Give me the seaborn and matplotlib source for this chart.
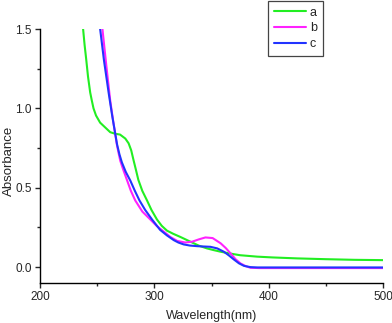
import numpy as np
import pandas as pd
import matplotlib
matplotlib.use("Agg")
import matplotlib.pyplot as plt
import seaborn as sns
from matplotlib.ticker import MultipleLocator

# spectra (wavelength nm, absorbance)
wl_a = [237.7, 239, 240.4, 242, 243.9, 245.3, 246.8, 249, 252.6, 257, 261.4, 265.8, 270,
        274.6, 277.5, 279.8, 281.6, 284, 286, 289.5, 293.6, 297.5, 302.3, 306.5, 311, 316.5,
        322.8, 331.6, 339, 346, 352, 358, 366, 375, 390, 403.5, 425, 450, 475, 500]
abs_a = [1.50, 1.40, 1.31, 1.20, 1.10, 1.05, 1.00, 0.955, 0.91, 0.88, 0.85, 0.84, 0.835,
         0.81, 0.78, 0.735, 0.68, 0.61, 0.55, 0.48, 0.42, 0.36, 0.30, 0.26, 0.23, 0.21,
         0.19, 0.16, 0.135, 0.118, 0.107, 0.097, 0.086, 0.075, 0.066, 0.061, 0.055, 0.05,
         0.046, 0.044]

wl_b = [254.6, 258, 261.4, 264, 265.8, 267, 268.7, 270.2, 273, 276, 279.5, 283.3, 289.5,
        296.5, 302, 308, 314, 320, 327, 333, 339, 344.7, 351, 358, 362.5, 366.7, 371,
        375.4, 380, 384, 392, 420, 460, 500]
abs_b = [1.50, 1.27, 1.05, 0.92, 0.84, 0.78, 0.72, 0.67, 0.61, 0.55, 0.48, 0.42, 0.35,
         0.30, 0.26, 0.225, 0.19, 0.165, 0.155, 0.16, 0.175, 0.187, 0.183, 0.15, 0.12,
         0.086, 0.05, 0.023, 0.006, -0.004, -0.006, -0.006, -0.006, -0.006]

wl_c = [252.6, 256, 260, 263, 265.8, 267.5, 269.5, 271.6, 275, 279, 283, 287, 292, 298, 305,
        311, 317, 321, 325.7, 331, 337.4, 343, 349, 355, 360.8, 365, 369.6, 374, 378.4,
        384, 390, 420, 460, 500]
abs_c = [1.50, 1.30, 1.10, 0.96, 0.84, 0.77, 0.71, 0.66, 0.60, 0.545, 0.48, 0.42, 0.36,
         0.30, 0.235, 0.20, 0.17, 0.155, 0.143, 0.136, 0.132, 0.13, 0.128, 0.118, 0.097,
         0.075, 0.048, 0.024, 0.008, 0.0, -0.002, -0.002, -0.002, -0.002]

df = pd.concat([
    pd.DataFrame({"wl": wl_a, "A": abs_a, "sample": "a"}),
    pd.DataFrame({"wl": wl_b, "A": abs_b, "sample": "b"}),
    pd.DataFrame({"wl": wl_c, "A": abs_c, "sample": "c"}),
])

sns.set_style("ticks")
plt.rcParams["font.family"] = ["Liberation Sans", "DejaVu Sans"]

fig = plt.figure(figsize=(3.92, 3.23), dpi=100)
ax = fig.add_axes([40 / 392, 40 / 323, 343 / 392, 254 / 323])

palette = {"a": "#22ee22", "b": "#ff22ff", "c": "#2233ff"}
sns.lineplot(data=df, x="wl", y="A", hue="sample", palette=palette, sort=False,
             estimator=None, linewidth=1.5, ax=ax)

ax.set_xlim(200, 500)
ax.set_ylim(-0.1, 1.5)
ax.xaxis.set_major_locator(MultipleLocator(100))
ax.xaxis.set_minor_locator(MultipleLocator(50))
ax.yaxis.set_major_locator(MultipleLocator(0.5))
ax.yaxis.set_minor_locator(MultipleLocator(0.25))
ax.tick_params(which="major", direction="out", length=3.8, width=1, labelsize=8.5, pad=2)
ax.tick_params(which="minor", direction="out", length=2.4, width=1)
for s in ["top", "right"]:
    ax.spines[s].set_visible(False)
for s in ["left", "bottom"]:
    ax.spines[s].set_linewidth(1)
    ax.spines[s].set_color("black")

ax.set_xlabel("Wavelength(nm)", fontsize=9, labelpad=5)
ax.set_ylabel("Absorbance", fontsize=9.5)
ax.yaxis.set_label_coords(-0.072, 0.48)

leg = ax.legend(loc="upper left", bbox_to_anchor=(268 / 392, 1 - 1 / 323),
                bbox_transform=fig.transFigure, fancybox=False, edgecolor="#444444",
                fontsize=9, handlelength=2.6, handletextpad=0.3, labelspacing=0.3,
                borderpad=0.45, borderaxespad=0, framealpha=1)
leg.get_frame().set_linewidth(0.9)

fig.savefig("out.png", dpi=100)
